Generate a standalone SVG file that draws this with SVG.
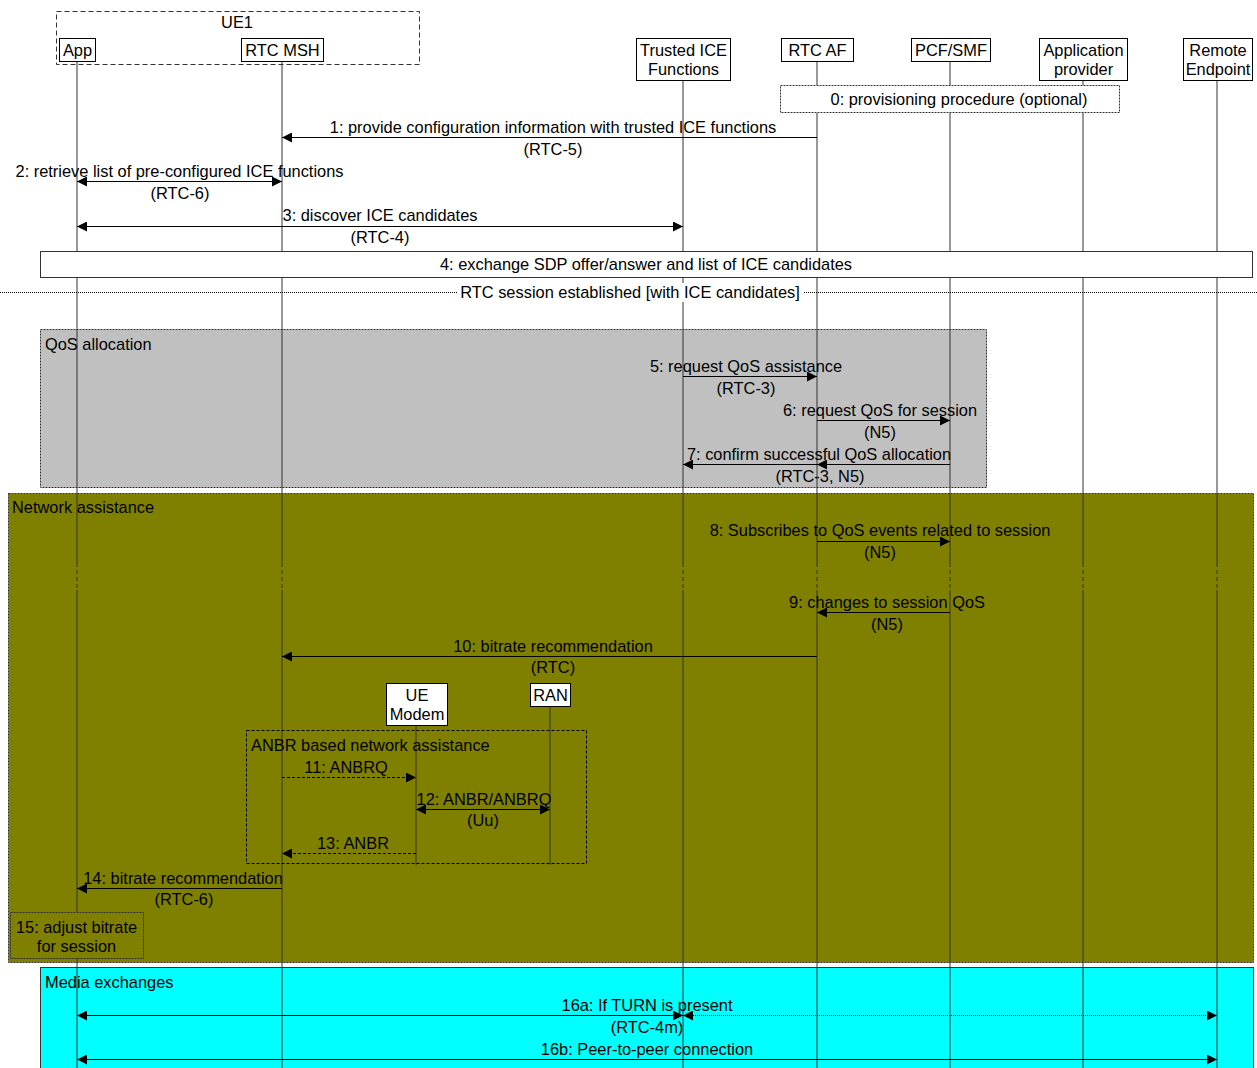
<svg xmlns="http://www.w3.org/2000/svg" width="1257" height="1068" viewBox="0 0 1257 1068">
<style>
text{font-family:"Liberation Sans",Arial,sans-serif;font-size:16.4px;fill:#000}
.c{text-anchor:middle}
.hdr{fill:#fff;stroke:#000;stroke-width:1}
.life{stroke:#333;stroke-width:1;fill:none}
.lifed{stroke:#333;stroke-width:1;fill:none;stroke-dasharray:4,3}
.msg{stroke:#000;stroke-width:1;fill:none}
.dash{stroke:#000;stroke-width:1;fill:none;stroke-dasharray:3,2}
.dot{stroke:#000;stroke-width:1;fill:none;stroke-dasharray:1,1}
.frame{stroke:#333;stroke-width:1;stroke-dasharray:2,1}
</style>
<defs>
<marker id="ah" viewBox="0 0 10 10" refX="10" refY="5" markerWidth="10" markerHeight="10" markerUnits="userSpaceOnUse" orient="auto-start-reverse">
<path d="M0,0 L10,5 L0,10 z" fill="#000"/>
</marker>
</defs>
<rect width="1257" height="1068" fill="#fff"/>

<!-- fragments / background boxes -->
<g id="frames">
<rect id="qos-frame" x="40.5" y="329.5" width="946" height="158" fill="#c0c0c0" class="frame"/>
<rect id="na-frame" x="8.5" y="493.5" width="1245" height="469" fill="#808000" class="frame"/>
<rect id="media-frame" x="40.5" y="967.5" width="1213" height="110" fill="#00ffff" stroke="#333" stroke-width="1"/>
</g>

<!-- lifelines -->
<g id="lifelines">
<path class="life" d="M77,61V563 M77,590V912 M77,958V1068"/>
<path class="life" d="M282,61V563 M282,590V1068"/>
<path class="life" d="M683,80V563 M683,590V1068"/>
<path class="life" d="M817,61V85 M817,113V563 M817,590V1068"/>
<path class="life" d="M950,61V85 M950,113V563 M950,590V1068"/>
<path class="life" d="M1083,80V85 M1083,113V563 M1083,590V1068"/>
<path class="life" d="M1217,80V563 M1217,590V1068"/>
<path class="lifed" d="M77,563V590 M282,563V590 M683,563V590 M817,563V590 M950,563V590 M1083,563V590 M1217,563V590"/>
<path class="life" d="M416,725V865"/>
<path class="life" d="M550,706V865"/>
</g>

<!-- header nodes -->
<g id="UE1">
<rect x="56.5" y="11.5" width="363" height="53" fill="none" stroke="#333" stroke-dasharray="5,3"/>
<text class="c" x="237" y="28">UE1</text>
</g>
<g id="App">
<rect class="hdr" x="59.5" y="38.5" width="36" height="23"/>
<text class="c" x="77.5" y="56">App</text>
</g>
<g id="RTC-MSH">
<rect class="hdr" x="241.5" y="38.5" width="82" height="23"/>
<text class="c" x="282.5" y="56">RTC MSH</text>
</g>
<g id="Trusted-ICE">
<rect class="hdr" x="636.5" y="38.5" width="94" height="42"/>
<text class="c" x="683.5" y="56">Trusted ICE</text>
<text class="c" x="683.5" y="75">Functions</text>
</g>
<g id="RTC-AF">
<rect class="hdr" x="781.5" y="38.5" width="72" height="23"/>
<text class="c" x="817.5" y="56">RTC AF</text>
</g>
<g id="PCF-SMF">
<rect class="hdr" x="911.5" y="38.5" width="79" height="23"/>
<text class="c" x="951" y="56">PCF/SMF</text>
</g>
<g id="App-provider">
<rect class="hdr" x="1039.5" y="38.5" width="88" height="42"/>
<text class="c" x="1083.5" y="56">Application</text>
<text class="c" x="1083.5" y="75">provider</text>
</g>
<g id="Remote-Endpoint">
<rect class="hdr" x="1183.5" y="38.5" width="69" height="42"/>
<text class="c" x="1218" y="56">Remote</text>
<text class="c" x="1218" y="75">Endpoint</text>
</g>
<g id="UE-Modem">
<rect class="hdr" x="386.5" y="683.5" width="61" height="42"/>
<text class="c" x="417" y="701">UE</text>
<text class="c" x="417" y="720">Modem</text>
</g>
<g id="RAN">
<rect class="hdr" x="530.5" y="683.5" width="40" height="23"/>
<text class="c" x="550.5" y="701">RAN</text>
</g>

<!-- step boxes -->
<g id="step0">
<rect x="780.5" y="85.5" width="339" height="27" fill="#fff" stroke="#333" stroke-dasharray="2,1"/>
<text class="c" x="959" y="105">0: provisioning procedure (optional)</text>
</g>
<g id="step4">
<rect x="40.5" y="251.5" width="1212" height="26" fill="#fff" stroke="#333"/>
<text class="c" x="646" y="270">4: exchange SDP offer/answer and list of ICE candidates</text>
</g>
<g id="session-established">
<line class="dot" x1="0" y1="292.5" x2="1257" y2="292.5" stroke="#333"/>
<rect x="457" y="283" width="346" height="19" fill="#fff"/>
<text class="c" x="630" y="298">RTC session established [with ICE candidates]</text>
</g>
<g id="frame-labels">
<text x="45" y="350">QoS allocation</text>
<text x="12" y="513">Network assistance</text>
<text x="45" y="988">Media exchanges</text>
</g>
<g id="anbr-frame">
<rect x="246.5" y="730.5" width="340" height="133" fill="none" stroke="#000" stroke-dasharray="3,2"/>
<text x="251" y="751">ANBR based network assistance</text>
</g>
<g id="step15">
<rect x="10.5" y="912.5" width="133" height="46" fill="#808000" stroke="#333" stroke-dasharray="2,1"/>
<text class="c" x="76.5" y="933">15: adjust bitrate</text>
<text class="c" x="76.5" y="952">for session</text>
</g>

<!-- connectors -->
<g id="connectors">
<line class="msg" x1="817" y1="137.5" x2="282" y2="137.5" marker-end="url(#ah)"/>
<text class="c" x="553" y="133">1: provide configuration information with trusted ICE functions</text>
<text class="c" x="553" y="155">(RTC-5)</text>

<line class="msg" x1="77" y1="181.5" x2="282" y2="181.5" marker-start="url(#ah)" marker-end="url(#ah)"/>
<text class="c" x="179.5" y="177">2: retrieve list of pre-configured ICE functions</text>
<text class="c" x="180" y="199">(RTC-6)</text>

<line class="msg" x1="77" y1="226.5" x2="683" y2="226.5" marker-start="url(#ah)" marker-end="url(#ah)"/>
<text class="c" x="380" y="221">3: discover ICE candidates</text>
<text class="c" x="380" y="243">(RTC-4)</text>

<line class="msg" x1="683" y1="376.5" x2="817" y2="376.5" marker-end="url(#ah)"/>
<text class="c" x="746" y="372">5: request QoS assistance</text>
<text class="c" x="746" y="394">(RTC-3)</text>

<line class="msg" x1="817" y1="420.5" x2="950" y2="420.5" marker-end="url(#ah)"/>
<text class="c" x="880" y="416">6: request QoS for session</text>
<text class="c" x="880" y="438">(N5)</text>

<line class="msg" x1="950" y1="464.5" x2="817" y2="464.5" marker-end="url(#ah)"/>
<line class="msg" x1="817" y1="464.5" x2="683" y2="464.5" marker-end="url(#ah)"/>
<text class="c" x="819" y="460">7: confirm successful QoS allocation</text>
<text class="c" x="820" y="482">(RTC-3, N5)</text>

<line class="msg" x1="817" y1="541.5" x2="950" y2="541.5" marker-end="url(#ah)"/>
<text class="c" x="880" y="536">8: Subscribes to QoS events related to session</text>
<text class="c" x="880" y="558">(N5)</text>

<line class="msg" x1="950" y1="612.5" x2="817" y2="612.5" marker-end="url(#ah)"/>
<text class="c" x="887" y="608">9: changes to session QoS</text>
<text class="c" x="887" y="630">(N5)</text>

<line class="msg" x1="817" y1="656.5" x2="282" y2="656.5" marker-end="url(#ah)"/>
<text class="c" x="553" y="652">10: bitrate recommendation</text>
<text class="c" x="553" y="673">(RTC)</text>

<line class="dash" x1="282" y1="777.5" x2="416" y2="777.5" marker-end="url(#ah)"/>
<text class="c" x="346" y="773">11: ANBRQ</text>

<line class="msg" x1="416" y1="809.5" x2="550" y2="809.5" marker-start="url(#ah)" marker-end="url(#ah)"/>
<text class="c" x="484" y="805">12: ANBR/ANBRQ</text>
<text class="c" x="483" y="826">(Uu)</text>

<line class="dash" x1="416" y1="853.5" x2="282" y2="853.5" marker-end="url(#ah)"/>
<text class="c" x="353" y="849">13: ANBR</text>

<line class="msg" x1="282" y1="888.5" x2="77" y2="888.5" marker-end="url(#ah)"/>
<text class="c" x="183" y="884">14: bitrate recommendation</text>
<text class="c" x="184" y="905">(RTC-6)</text>

<line class="msg" x1="77" y1="1015.5" x2="683" y2="1015.5" marker-start="url(#ah)" marker-end="url(#ah)"/>
<line class="dot" x1="683" y1="1015.5" x2="1217" y2="1015.5" marker-start="url(#ah)" marker-end="url(#ah)"/>
<text class="c" x="647" y="1011">16a: If TURN is present</text>
<text class="c" x="647" y="1033">(RTC-4m)</text>

<line class="msg" x1="77" y1="1059.5" x2="1217" y2="1059.5" marker-start="url(#ah)" marker-end="url(#ah)"/>
<text class="c" x="647" y="1055">16b: Peer-to-peer connection</text>
</g>
</svg>
